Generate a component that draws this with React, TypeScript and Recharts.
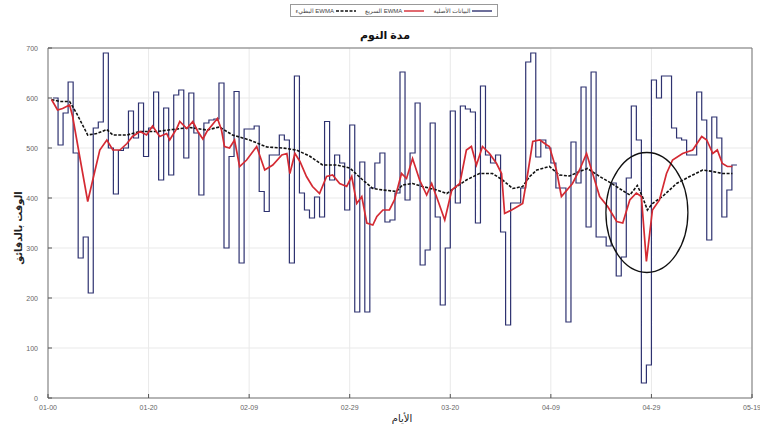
import React from 'react';
import { LineChart, Line, XAxis, YAxis, CartesianGrid, ReferenceDot, ReferenceLine } from 'recharts';

// ---- axis ticks ----
const xTickDays = [0, 20, 40, 60, 80, 100, 120, 140];
const xTickLabels = ['01-00', '01-20', '02-09', '02-29', '03-20', '04-09', '04-29', '05-19'];
const yTicks = [0, 100, 200, 300, 400, 500, 600, 700];

// ---- texts ----
const chartTitle = 'مدة النوم';
const xTitle = 'الأيام';
const yTitle = 'الوقت بالدقائق';
const legendOriginal = 'البيانات الأصلية';
const legendFast = 'EWMA السريع';
const legendSlow = 'EWMA البطيء';

// ---- original daily sleep duration (step series), day 1.. ----
const originalStartDay = 1;
const originalValues = [
  600, 506, 570, 632, 490, 280, 322, 210, 540, 552,
  690, 500, 408, 495, 500, 574, 520, 590, 483, 540,
  612, 436, 580, 446, 606, 616, 480, 610, 530, 406,
  550, 556, 558, 630, 300, 483, 613, 270, 538, 538,
  544, 413, 373, 486, 486, 526, 516, 270, 644, 410,
  376, 360, 402, 362, 553, 436, 486, 470, 376, 546,
  172, 472, 172, 420, 470, 490, 352, 356, 410, 652,
  396, 490, 590, 266, 296, 550, 362, 186, 300, 574,
  390, 584, 578, 572, 350, 624, 486, 470, 486, 332,
  146, 390, 390, 420, 672, 690, 482, 516, 500, 470,
  420, 420, 152, 512, 430, 622, 342, 652, 322, 322,
  304, 430, 244, 282, 440, 584, 516, 30, 66, 636,
  600, 644, 644, 540, 520, 516, 486, 486, 612, 556,
  316, 562, 520, 362, 416, 466,
];

// ---- fast EWMA (red) ----
const fastDays = [
  0.7, 1.9, 2.9, 4.3, 4.9, 6.3, 7.9, 8.9, 10.3, 11.7,
  12.9, 14.3, 15.7, 16.8, 18.3, 19.6, 20.8, 22.2, 23.6, 24.2,
  25.6, 26.2, 27.6, 28.8, 29.8, 30.8, 31.6, 33.2, 33.7, 34.5,
  35.1, 36.1, 37.1, 38.1, 39.5, 41.5, 43.1, 44.7, 46.5, 47.5,
  48.1, 49.1, 50.1, 51.4, 52.6, 54.0, 55.4, 56.6, 58.0, 59.4,
  60.4, 61.4, 62.4, 63.4, 64.6, 65.4, 66.6, 67.9, 68.9, 70.3,
  71.3, 72.5, 73.9, 75.3, 76.3, 77.5, 78.9, 80.3, 81.9, 83.2,
  84.2, 85.2, 86.4, 87.8, 89.2, 90.2, 90.8, 92.2, 93.4, 94.4,
  95.4, 96.4, 97.8, 99.2, 99.7, 101.1, 102.1, 104.3, 105.7, 107.1,
  108.1, 109.7, 111.3, 113.1, 114.3, 115.7, 117.0, 118.0, 119.0, 120.2,
  121.6, 123.0, 124.2, 126.2, 128.2, 130.0, 131.0, 132.2, 133.1, 134.1,
  135.1, 136.1,
];
const fastValues = [
  597, 576, 579, 586, 563, 483, 393, 436, 496, 516,
  496, 496, 509, 523, 533, 526, 544, 523, 529, 516,
  539, 553, 539, 553, 533, 518, 533, 553, 559, 536,
  503, 500, 516, 463, 476, 503, 456, 466, 486, 489,
  449, 489, 473, 443, 423, 409, 443, 446, 429, 423,
  443, 389, 403, 350, 346, 363, 376, 376, 396, 449,
  439, 479, 436, 406, 429, 396, 356, 416, 429, 496,
  503, 466, 503, 489, 469, 449, 369, 376, 383, 389,
  449, 513, 516, 506, 503, 456, 403, 429, 456, 489,
  456, 403, 383, 353, 350, 396, 410, 403, 273, 376,
  396, 449, 476, 489, 496, 523, 516, 489, 496, 469,
  463, 463,
];

// ---- slow EWMA (black dashed) ----
const slowDays = [
  0.7, 2.3, 4.3, 5.7, 7.9, 9.7, 11.7, 12.9, 15.7, 18.2,
  21.6, 24.8, 28.2, 31.6, 34.1, 36.7, 40.1, 43.5, 46.7, 49.4,
  52.0, 54.6, 57.4, 60.0, 62.6, 64.6, 66.6, 69.3, 70.5, 72.5,
  74.5, 77.3, 79.3, 81.3, 83.2, 85.8, 88.4, 90.4, 92.4, 94.4,
  95.8, 97.2, 99.7, 101.7, 103.7, 105.7, 107.3, 109.7, 112.1, 114.1,
  115.7, 117.2, 118.2, 119.2, 120.2, 122.2, 125.0, 127.6, 130.2, 132.2,
  134.1, 136.1,
];
const slowValues = [
  597, 593, 593, 569, 526, 529, 537, 526, 526, 533,
  533, 537, 541, 536, 542, 526, 516, 502, 500, 496,
  484, 466, 466, 460, 436, 419, 416, 413, 426, 429,
  423, 416, 409, 423, 436, 449, 449, 436, 419, 423,
  443, 456, 463, 446, 444, 453, 459, 443, 429, 416,
  406, 425, 403, 376, 389, 403, 429, 443, 456, 453,
  449, 449,
];

// ---- highlighted anomaly (ellipse annotation) ----
const highlightDay = 119.1;
const highlightValue = 371;

const originalData = [
  ...originalValues.map((v, i) => ({ day: originalStartDay + i, value: v })),
  { day: originalStartDay + originalValues.length, value: originalValues[originalValues.length - 1] },
];
const fastData = fastDays.map((d, i) => ({ day: d, value: fastValues[i] }));
const slowData = slowDays.map((d, i) => ({ day: d, value: slowValues[i] }));

const FONT = '"Liberation Sans", "DejaVu Sans", Arial, sans-serif';
const BLUE = '#2e3270';
const RED = '#d42a33';
const BLACK = '#111111';

const XTick = (props: any) => {
  const { x, y, payload } = props;
  const idx = xTickDays.indexOf(payload.value);
  return (
    <g>
      <line x1={x} x2={x} y1={y - 8} y2={y - 12} stroke="#555" strokeWidth={1} />
      <text x={x} y={y + 4} textAnchor="middle" fontSize={7} fill="#666" fontFamily={FONT}>
        {idx >= 0 ? xTickLabels[idx] : ''}
      </text>
    </g>
  );
};

const YTick = (props: any) => {
  const { x, y, payload } = props;
  return (
    <g>
      <line x1={x + 8} x2={x + 12} y1={y} y2={y} stroke="#555" strokeWidth={1} />
      <text x={x - 2} y={y + 2.5} textAnchor="end" fontSize={7} fill="#666" fontFamily={FONT}>
        {payload.value}
      </text>
    </g>
  );
};

const Ellipse = (props: any) => {
  const { cx, cy } = props;
  return <ellipse cx={cx} cy={cy} rx={41} ry={60} fill="none" stroke={BLACK} strokeWidth={1.3} />;
};

const LegendSample = ({ color, dashed }: { color: string; dashed?: boolean }) => (
  <svg width={20} height={6} style={{ display: 'block' }}>
    <line x1={0} x2={20} y1={3} y2={3} stroke={color} strokeWidth={dashed ? 1.6 : 1.4} strokeDasharray={dashed ? '3 1.5' : undefined} />
  </svg>
);

export default function App() {
  return (
    <div style={{ position: 'absolute', left: 0, top: 0, width: 760, height: 435, background: '#fff', fontFamily: FONT }}>
      <LineChart width={760} height={435} data={originalData} margin={{ top: 48, right: 8, bottom: 7, left: 0 }}>
        <CartesianGrid stroke="#e9e9e9" strokeWidth={1} verticalPoints={undefined} />
        <XAxis
          dataKey="day"
          type="number"
          domain={[0, 140]}
          ticks={xTickDays}
          interval={0}
          height={30}
          tickLine={false}
          tick={<XTick />}
          axisLine={{ stroke: '#777' }}
          allowDataOverflow
        />
        <YAxis
          type="number"
          domain={[0, 700]}
          ticks={yTicks}
          interval={0}
          width={48}
          tickLine={false}
          tick={<YTick />}
          axisLine={{ stroke: '#777' }}
          allowDataOverflow
        />
        <ReferenceLine y={700} stroke="#777" strokeWidth={1} />
        <ReferenceLine x={140} stroke="#777" strokeWidth={1} />
        <Line
          data={originalData}
          type="stepAfter"
          dataKey="value"
          stroke={BLUE}
          strokeWidth={1.2}
          dot={false}
          isAnimationActive={false}
        />
        <Line
          data={slowData}
          type="linear"
          dataKey="value"
          stroke={BLACK}
          strokeWidth={1.6}
          strokeDasharray="3 1.5"
          dot={false}
          isAnimationActive={false}
        />
        <Line
          data={fastData}
          type="linear"
          dataKey="value"
          stroke={RED}
          strokeWidth={1.7}
          dot={false}
          isAnimationActive={false}
        />
        <ReferenceDot x={highlightDay} y={highlightValue} shape={<Ellipse />} ifOverflow="visible" />
      </LineChart>

      {/* legend */}
      <div
        style={{
          position: 'absolute', left: 290, top: 4, width: 208, height: 13,
          border: '1px solid #999', background: '#fff', boxSizing: 'border-box',
          display: 'flex', alignItems: 'center', justifyContent: 'space-around',
          fontSize: 6, color: '#444', direction: 'ltr', whiteSpace: 'nowrap',
        }}
      >
        <div style={{ display: 'flex', alignItems: 'center', gap: 2 }}>
          <span dir="rtl">{legendSlow}</span>
          <LegendSample color={BLACK} dashed />
        </div>
        <div style={{ display: 'flex', alignItems: 'center', gap: 2 }}>
          <span dir="rtl">{legendFast}</span>
          <LegendSample color={RED} />
        </div>
        <div style={{ display: 'flex', alignItems: 'center', gap: 2 }}>
          <span dir="rtl">{legendOriginal}</span>
          <LegendSample color={BLUE} />
        </div>
      </div>

      {/* title */}
      <div style={{ position: 'absolute', left: 0, width: 770, top: 29, textAlign: 'center', fontSize: 11, fontWeight: 'bold', color: '#111' }}>
        {chartTitle}
      </div>

      {/* x title */}
      <div style={{ position: 'absolute', left: 352, width: 100, top: 413, textAlign: 'center', fontSize: 10, color: '#222' }}>
        {xTitle}
      </div>

      {/* y title */}
      <div
        style={{
          position: 'absolute', left: 19, top: 228, width: 120, marginLeft: -60, marginTop: -7, height: 14,
          textAlign: 'center', fontSize: 10, fontWeight: 'bold', color: '#222',
          transform: 'rotate(-90deg)', lineHeight: '14px',
        }}
      >
        {yTitle}
      </div>
    </div>
  );
}
